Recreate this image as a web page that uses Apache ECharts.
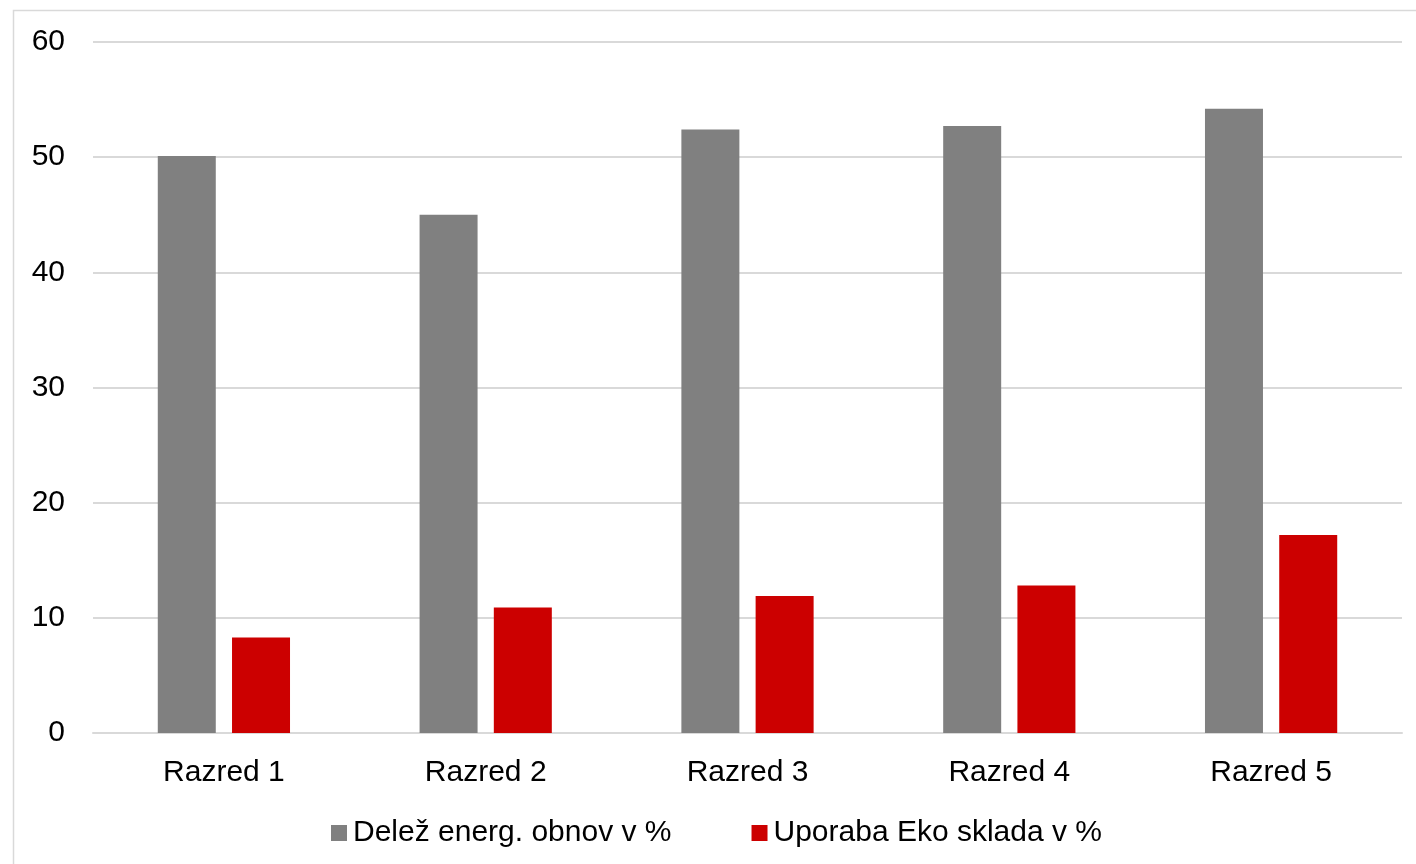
<!DOCTYPE html>
<html>
<head>
<meta charset="utf-8">
<style>
  html, body { margin: 0; padding: 0; background: #ffffff; }
  #chart { width: 1416px; height: 864px; }
</style>
<script src="https://cdn.jsdelivr.net/npm/echarts@6/dist/echarts.min.js"></script>
</head>
<body>
<div id="chart"></div>
<script>
// Categories and series values
const categories = ['Razred 1', 'Razred 2', 'Razred 3', 'Razred 4', 'Razred 5'];
const delezObnov = [50.1, 45.0, 52.4, 52.7, 54.2];
const uporabaEko = [8.3, 10.9, 11.9, 12.8, 17.2];
const seriesNames = ['Delež energ. obnov v %', 'Uporaba Eko sklada v %'];

const FONT = '"Liberation Sans", Arial, sans-serif';
const chart = echarts.init(document.getElementById('chart'), null, { renderer: 'canvas' });

chart.setOption({
  backgroundColor: '#ffffff',
  animation: false,
  graphic: [{
    type: 'rect',
    shape: { x: 13.5, y: 10.5, width: 1420, height: 880 },
    style: { fill: 'none', stroke: '#d9d9d9', lineWidth: 1.5 },
    silent: true,
    z: -1
  }],
  grid: { left: 93, right: 14, top: 42, bottom: 131, containLabel: false },
  legend: {
    left: 326,
    top: 813,
    itemWidth: 16,
    itemHeight: 16,
    itemGap: 80,
    icon: 'rect',
    textStyle: { fontFamily: FONT, fontSize: 30, color: '#000000', padding: [0, 0, 0, 1] },
    data: seriesNames
  },
  xAxis: {
    type: 'category',
    data: categories,
    axisLine: { lineStyle: { color: '#d9d9d9', width: 2 } },
    axisTick: { show: false },
    axisLabel: { fontFamily: FONT, fontSize: 30, color: '#000000', margin: 25 }
  },
  yAxis: {
    type: 'value',
    min: 0,
    max: 60,
    interval: 10,
    axisLine: { show: false },
    axisTick: { show: false },
    splitLine: { lineStyle: { color: '#d9d9d9', width: 2 } },
    axisLabel: { fontFamily: FONT, fontSize: 30, color: '#000000', margin: 28 }
  },
  series: [
    {
      name: seriesNames[0],
      type: 'bar',
      data: delezObnov,
      barWidth: 58,
      barGap: '28%',
      itemStyle: { color: '#808080' }
    },
    {
      name: seriesNames[1],
      type: 'bar',
      data: uporabaEko,
      barWidth: 58,
      barGap: '28%',
      itemStyle: { color: '#cc0000' }
    }
  ]
});
</script>
</body>
</html>
